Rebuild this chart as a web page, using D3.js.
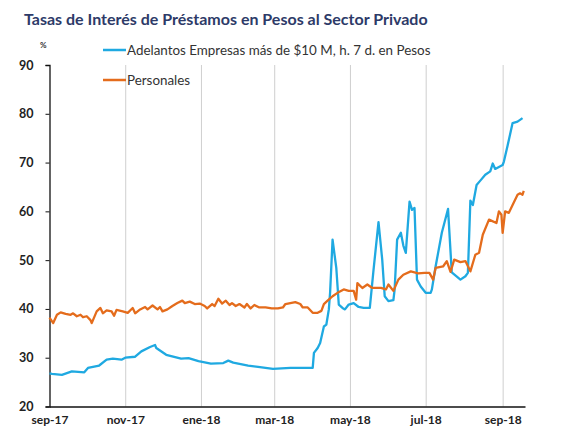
<!DOCTYPE html>
<html>
<head>
<meta charset="utf-8">
<script src="https://cdn.jsdelivr.net/npm/d3@7"></script>
<style>
  body { margin: 0; background: #fff; }
  svg text { font-family: Lato, "Open Sans", sans-serif; }
</style>
</head>
<body>
<div id="chart"></div>
<script>
  // tick labels on the x axis (first day of every other month)
  const xTickDates = ["2017-09-01","2017-11-01","2018-01-01","2018-03-01","2018-05-01","2018-07-01","2018-09-01"];
  const xTickLabels = ["sep-17","nov-17","ene-18","mar-18","may-18","jul-18","sep-18"];
  const yTicks = [20, 30, 40, 50, 60, 70, 80, 90];

  const seriesNames = ["Adelantos Empresas más de $10 M, h. 7 d. en Pesos", "Personales"];

  // Adelantos Empresas más de $10 M
  const adelantosDates = [
    "2017-09-01","2017-09-03","2017-09-11","2017-09-19","2017-09-29","2017-10-02","2017-10-11","2017-10-17",
    "2017-10-22","2017-10-29","2017-11-01","2017-11-09","2017-11-14","2017-11-21","2017-11-25","2017-11-26",
    "2017-12-04","2017-12-16","2017-12-22","2017-12-30","2018-01-03","2018-01-09","2018-01-19","2018-01-23",
    "2018-01-27","2018-02-08","2018-02-16","2018-02-28","2018-03-14","2018-03-30","2018-04-01","2018-04-02",
    "2018-04-05","2018-04-07","2018-04-10","2018-04-12","2018-04-14","2018-04-15","2018-04-17","2018-04-20",
    "2018-04-22","2018-04-25","2018-04-27","2018-04-30","2018-05-04","2018-05-08","2018-05-12","2018-05-17",
    "2018-05-20","2018-05-24","2018-05-27","2018-05-29","2018-06-01","2018-06-05","2018-06-06","2018-06-08",
    "2018-06-11","2018-06-13","2018-06-15","2018-06-18","2018-06-20","2018-06-22","2018-06-24","2018-06-27",
    "2018-07-01","2018-07-05","2018-07-06","2018-07-09","2018-07-14","2018-07-19","2018-07-22","2018-07-29",
    "2018-08-02","2018-08-04","2018-08-06","2018-08-08","2018-08-11","2018-08-14","2018-08-18","2018-08-22",
    "2018-08-24","2018-08-26","2018-09-01","2018-09-02","2018-09-05","2018-09-09","2018-09-13","2018-09-17"
  ];
  const adelantosValues = [
    26.8, 26.7, 26.5, 27.2, 27.0, 27.9, 28.4, 29.6,
    29.8, 29.6, 30.0, 30.2, 31.3, 32.2, 32.6, 32.0,
    30.6, 29.8, 29.9, 29.3, 29.1, 28.8, 28.9, 29.4,
    29.0, 28.4, 28.1, 27.7, 27.9, 27.9, 27.9, 31.0,
    32.0, 33.0, 36.4, 36.8, 39.9, 43.3, 54.2, 48.4,
    40.9, 40.2, 39.9, 40.9, 41.2, 40.4, 40.2, 40.2,
    48.0, 57.8, 50.1, 42.6, 41.6, 41.8, 44.0, 54.2,
    55.6, 53.0, 51.5, 62.0, 60.3, 60.7, 46.0, 44.6,
    43.3, 43.3, 44.0, 48.7, 55.6, 60.5, 47.5, 46.0,
    46.7, 47.4, 62.2, 61.3, 65.4, 66.3, 67.5, 68.2,
    69.8, 68.7, 69.5, 70.2, 73.5, 78.1, 78.4, 79.1
  ];

  // Personales
  const personalesDates = [
    "2017-09-01","2017-09-04","2017-09-07","2017-09-10","2017-09-14","2017-09-18","2017-09-20","2017-09-23",
    "2017-09-26","2017-09-28","2017-10-01","2017-10-04","2017-10-05","2017-10-09","2017-10-12","2017-10-14",
    "2017-10-17","2017-10-21","2017-10-23","2017-10-25","2017-10-30","2017-11-03","2017-11-07","2017-11-09",
    "2017-11-13","2017-11-17","2017-11-19","2017-11-23","2017-11-27","2017-11-29","2017-12-01","2017-12-05",
    "2017-12-09","2017-12-13","2017-12-17","2017-12-19","2017-12-23","2017-12-27","2017-12-31","2018-01-04",
    "2018-01-06","2018-01-10","2018-01-12","2018-01-15","2018-01-18","2018-01-21","2018-01-24","2018-01-26",
    "2018-01-29","2018-02-01","2018-02-05","2018-02-07","2018-02-10","2018-02-13","2018-02-17","2018-02-22",
    "2018-02-27","2018-03-04","2018-03-08","2018-03-10","2018-03-14","2018-03-18","2018-03-22","2018-03-24",
    "2018-03-28","2018-04-01","2018-04-05","2018-04-08","2018-04-10","2018-04-13","2018-04-17","2018-04-21",
    "2018-04-26","2018-04-30","2018-05-04","2018-05-06","2018-05-07","2018-05-11","2018-05-15","2018-05-19",
    "2018-05-26","2018-05-30","2018-06-01","2018-06-05","2018-06-09","2018-06-13","2018-06-19","2018-06-25",
    "2018-06-30","2018-07-04","2018-07-07","2018-07-09","2018-07-15","2018-07-18","2018-07-21","2018-07-24",
    "2018-07-29","2018-08-02","2018-08-06","2018-08-10","2018-08-13","2018-08-16","2018-08-21","2018-08-27",
    "2018-08-29","2018-08-31","2018-09-01","2018-09-03","2018-09-06","2018-09-09","2018-09-13","2018-09-15",
    "2018-09-17","2018-09-18"
  ];
  const personalesValues = [
    38.2, 37.1, 38.8, 39.3, 39.0, 38.8, 39.1, 38.5,
    38.8, 38.3, 38.5, 37.7, 37.1, 39.5, 40.2, 39.1,
    39.7, 39.5, 38.6, 39.8, 39.5, 39.2, 40.2, 39.1,
    39.9, 40.4, 39.9, 40.7, 39.9, 40.4, 39.5, 39.9,
    40.6, 41.2, 41.7, 41.2, 41.5, 41.0, 41.1, 40.6,
    40.1, 41.0, 40.6, 42.1, 41.1, 41.7, 40.8, 41.2,
    40.6, 41.0, 40.3, 41.0, 40.1, 40.8, 40.3, 40.3,
    40.1, 40.1, 40.3, 41.0, 41.2, 41.4, 41.0, 40.3,
    40.3, 39.2, 39.2, 39.6, 41.0, 41.7, 42.6, 43.3,
    44.0, 43.7, 43.7, 41.9, 45.3, 44.3, 45.0, 44.3,
    44.3, 44.0, 45.0, 43.7, 46.0, 47.0, 47.7, 47.3,
    47.4, 47.4, 46.0, 48.4, 48.7, 49.8, 47.6, 50.1,
    49.6, 49.8, 47.7, 51.1, 51.5, 55.2, 58.3, 57.6,
    60.0, 59.3, 55.6, 60.0, 59.7, 61.3, 63.4, 63.7,
    63.4, 64.2
  ];

  const colors = ["#1fa9e1", "#e46c1c"];

  const width = 578, height = 441;
  const parse = d3.timeParse("%Y-%m-%d");

  const svg = d3.select("#chart").append("svg")
      .attr("width", width)
      .attr("height", height);

  const x = d3.scaleTime()
      .domain([parse("2017-09-01"), parse("2018-09-19")])
      .range([49.5, 525]);
  const y = d3.scaleLinear()
      .domain([20, 90])
      .range([406.5, 65]);

  // title
  svg.append("text")
      .attr("x", 24).attr("y", 25)
      .attr("fill", "#2d3a68")
      .attr("font-size", 16)
      .attr("font-weight", "bold")
      .text("Tasas de Interés de Préstamos en Pesos al Sector Privado");

  svg.append("text")
      .attr("x", 40).attr("y", 48)
      .attr("fill", "#333")
      .attr("font-size", 8)
      .attr("font-weight", "bold")
      .text("%");

  // vertical grid lines
  svg.append("g")
    .selectAll("line")
    .data(xTickDates.slice(1))
    .join("line")
      .attr("x1", d => x(parse(d)) + 0.5).attr("x2", d => x(parse(d)) + 0.5)
      .attr("y1", y(90)).attr("y2", y(20))
      .attr("stroke", "#cfcfcf")
      .attr("stroke-width", 1);

  // x axis
  const xAxis = d3.axisBottom(x)
      .tickValues(xTickDates.map(parse))
      .tickFormat((d, i) => xTickLabels[i])
      .tickSize(0)
      .tickPadding(9);
  const gx = svg.append("g")
      .attr("transform", `translate(0,${y(20)})`)
      .call(xAxis);
  gx.select(".domain").attr("stroke", "#111").attr("stroke-width", 1.3);
  gx.selectAll("text")
      .attr("font-size", 12).attr("font-weight", "bold").attr("fill", "#222")
      .attr("font-family", "Lato, sans-serif");

  // y axis
  const yAxis = d3.axisLeft(y)
      .tickValues(yTicks)
      .tickSize(4)
      .tickPadding(12);
  const gy = svg.append("g")
      .attr("transform", `translate(${x(parse("2017-09-01"))},0)`)
      .call(yAxis);
  gy.select(".domain").attr("stroke", "#111").attr("stroke-width", 1.3);
  gy.selectAll(".tick line").attr("stroke", "#111");
  gy.selectAll("text")
      .attr("font-size", 12.5).attr("font-weight", "bold").attr("fill", "#222")
      .attr("font-family", "Lato, sans-serif");

  // lines
  const line = d3.line()
      .x(d => x(d[0]))
      .y(d => y(d[1]));

  const series = [
    d3.zip(personalesDates.map(parse), personalesValues),
    d3.zip(adelantosDates.map(parse), adelantosValues)
  ];

  svg.append("path")
      .datum(series[1])
      .attr("fill", "none")
      .attr("stroke", colors[0])
      .attr("stroke-width", 2.3)
      .attr("stroke-linejoin", "round")
      .attr("d", line);

  svg.append("path")
      .datum(series[0])
      .attr("fill", "none")
      .attr("stroke", colors[1])
      .attr("stroke-width", 2.3)
      .attr("stroke-linejoin", "round")
      .attr("d", line);

  // legend
  const legend = svg.append("g");
  seriesNames.forEach(function(name, i) {
    const ly = 50 + i * 30;
    legend.append("line")
        .attr("x1", 103).attr("x2", 126)
        .attr("y1", ly).attr("y2", ly)
        .attr("stroke", colors[i])
        .attr("stroke-width", 2.5);
    legend.append("text")
        .attr("x", 127).attr("y", ly + 4.5)
        .attr("fill", "#333")
        .attr("font-size", 13.4)
        .text(name);
  });
</script>
</body>
</html>
